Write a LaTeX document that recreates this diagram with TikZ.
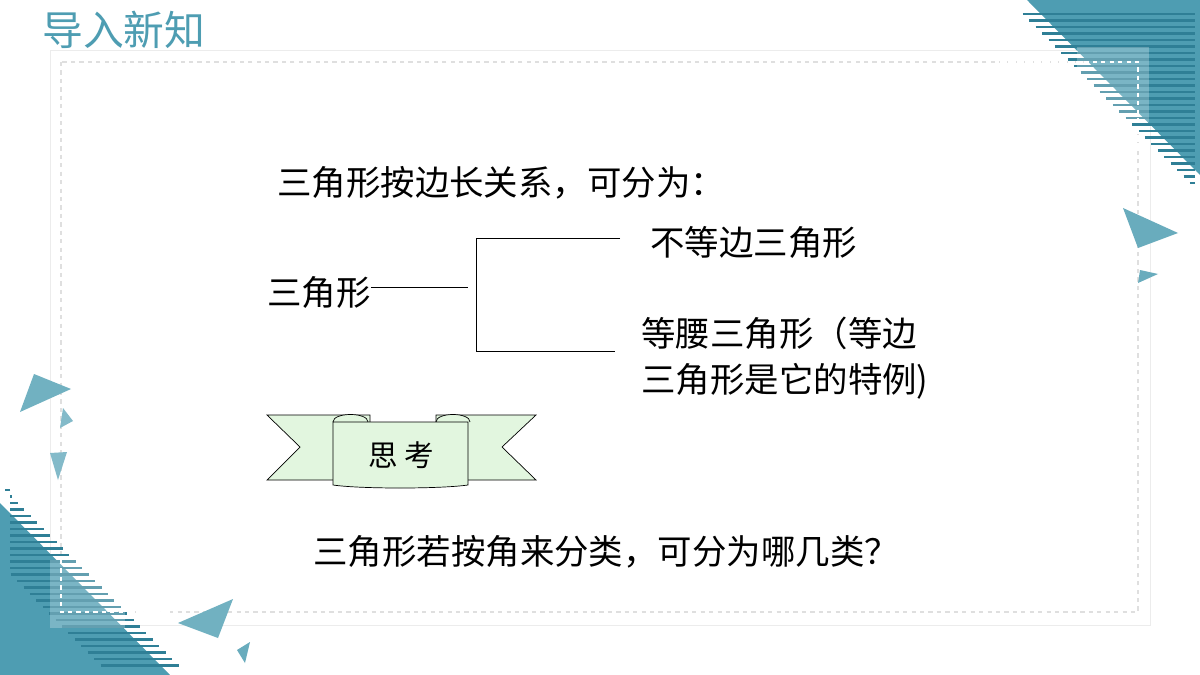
\documentclass[tikz,border=0pt]{standalone}
\usepackage{fontspec}
\newfontfamily\cjk{Noto Sans CJK SC}
\begin{document}
\begin{tikzpicture}[x=0.025cm,y=-0.025cm,
  txt/.style={anchor=west,inner sep=0pt,font=\cjk\fontsize{24.5}{29}\selectfont},
  ln/.style={draw=black,line width=0.5pt}]
\definecolor{tealc}{HTML}{4E9DB2}
\definecolor{teald}{HTML}{2F7F96}
\definecolor{ribbon}{HTML}{E2F6DF}
\useasboundingbox (0,0) rectangle (1200,675);
\fill[white] (0,0) rectangle (1200,675);
% frame
\draw[gray!15,line width=0.6pt] (50,50) rectangle (1150,625);
\draw[gray!25,dashed,line width=0.8pt] (61,62) rectangle (1138,612);
% top-right decoration
\fill[tealc] (1027,0) -- (1200,0) -- (1200,175) -- cycle;
\foreach \y in {14,20.5,...,186} {
  \draw[teald,line width=1.6pt] ({1009+\y*0.9886},\y) -- (1195,\y);}
\fill[white,opacity=0.25] (1077,47) rectangle (1149,122);
\draw[white,dashed,line width=0.8pt] (1000,62) -- (1138,62) -- (1138,150);
% bottom-left decoration
\fill[tealc] (0,503) -- (0,675) -- (170,675) -- cycle;
\foreach \y in {490,496.5,...,668} {
  \draw[teald,line width=1.6pt] ({max(10,(\y-503)*0.9884-60)},\y) -- ({(\y-503)*0.9884+18},\y);}
\fill[white,opacity=0.25] (50,560) rectangle (125,628);
\draw[white,dashed,line width=0.8pt] (61,560) -- (61,612) -- (170,612);
% small triangles
\fill[tealc!85] (1123,208) -- (1178,233) -- (1138,248) -- cycle;
\fill[tealc!85] (1140,270) -- (1158,274) -- (1138,283) -- cycle;
\fill[tealc!80] (34,374) -- (71,389) -- (20,412) -- cycle;
\fill[tealc!70] (63,408) -- (73,421) -- (60,428) -- cycle;
\fill[tealc!70] (50,453) -- (67,452) -- (58,480) -- cycle;
\fill[tealc!80] (178,623) -- (233,599) -- (218,638) -- cycle;
\fill[tealc!85] (237,650) -- (250,642) -- (245,663) -- cycle;
% title
\node[anchor=west,inner sep=0pt,text=tealc,font=\cjk\fontsize{29}{32}\selectfont] (title) at (42,30) {导入新知};
% texts
\node[txt] (t1) at (277,183) {三角形按边长关系，可分为：};
\node[txt] (tri) at (267,292) {三角形};
\node[txt] (a) at (650,242) {不等边三角形};
\node[txt,align=left] (b) at (641,358) {等腰三角形（等边\\[4pt]三角形是它的特例)};
\node[txt] (q) at (313,552) {三角形若按角来分类，可分为哪几类？};
\coordinate (j) at (468,287);
\coordinate (v1) at (476,238);
\coordinate (v2) at (476,351);
\coordinate (e1) at (620,238);
\coordinate (e2) at (615,351);
\draw[ln] (tri.east |- j) -- (j);
\draw[ln] (e1) -- (v1) -- (v2) -- (e2);
% ribbon
\draw[ln,fill=ribbon] (267,415) -- (370,415) -- (370,480) -- (267,480) -- (300,447) -- cycle;
\draw[ln,fill=ribbon] (536,415) -- (436,415) -- (436,480) -- (536,480) -- (502,447) -- cycle;
\draw[ln,fill=ribbon] (333,422) .. controls (333,412) and (368,412) .. (368,422);
\draw[ln,fill=ribbon] (436,422) .. controls (436,412) and (470,412) .. (470,422);
\draw[ln,fill=ribbon] (333,422) -- (468,422) -- (468,485) .. controls (440,489) and (360,489) .. (333,485) -- cycle;
\node[font=\cjk\fontsize{21}{24}\selectfont] (think) at (401,455) {思 考};
\end{tikzpicture}
\end{document}
